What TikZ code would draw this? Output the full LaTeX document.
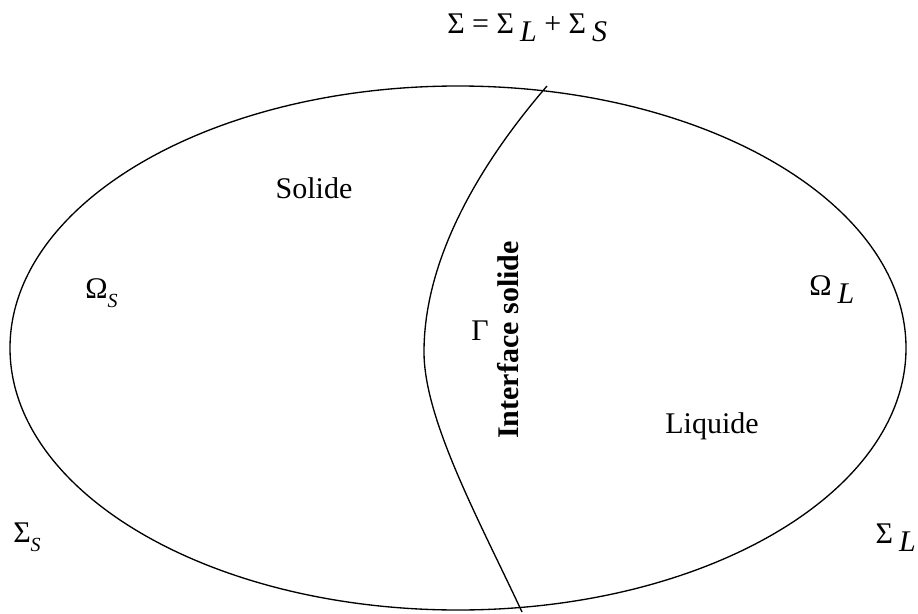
\documentclass[tikz,border=0pt]{standalone}
\usepackage{fontspec}
\setmainfont{Liberation Serif}
\newcommand{\lowsub}[1]{\hspace{0.2em}\raisebox{-0.27em}{\itshape #1}}
\newcommand{\smallsub}[1]{\raisebox{-0.3em}{\fontsize{15}{17}\selectfont\itshape #1}}

\begin{document}
\begin{tikzpicture}[x=0.75pt, y=-0.75pt, font=\fontsize{22.5}{27}\selectfont,
    lbl/.style={inner sep=0pt}, trait/.style={line width=1pt}]
  \useasboundingbox (0,0) rectangle (918,614);
  % domaine: ellipse coupee par l'interface
  \draw[trait] (458,348) ellipse [x radius=336pt, y radius=196.5pt];
  \coordinate (haut) at (547,86);
  \coordinate (milieu) at (424,352);
  \coordinate (bas) at (522,612);
  \draw[trait] (haut) .. controls (478,166) and (424,260) .. (milieu)
    .. controls (424,420) and (480,522) .. (bas);
  % textes
  \node[lbl, anchor=base west] (sigma) at (447,33) {Σ = Σ\lowsub{L} + Σ\lowsub{S}};
  \node[lbl, anchor=base] (solide) at (314,198) {Solide};
  \node[lbl, anchor=base] (liquide) at (712,433) {Liquide};
  \node[lbl, anchor=base west] (omegas) at (85,298) {Ω\smallsub{S}};
  \node[lbl, anchor=base west] (omegal) at (809,295) {Ω\lowsub{L}};
  \node[lbl, anchor=base] (gamma) at (480,340) {Γ};
  \node[lbl, rotate=90] (interface) at (508,340) {\textbf{Interface solide}};
  \node[lbl, anchor=base west] (sigmas) at (13,542) {Σ\smallsub{S}};
  \node[lbl, anchor=base east] (sigmal) at (916,543) {Σ\lowsub{L}};
\end{tikzpicture}
\end{document}
